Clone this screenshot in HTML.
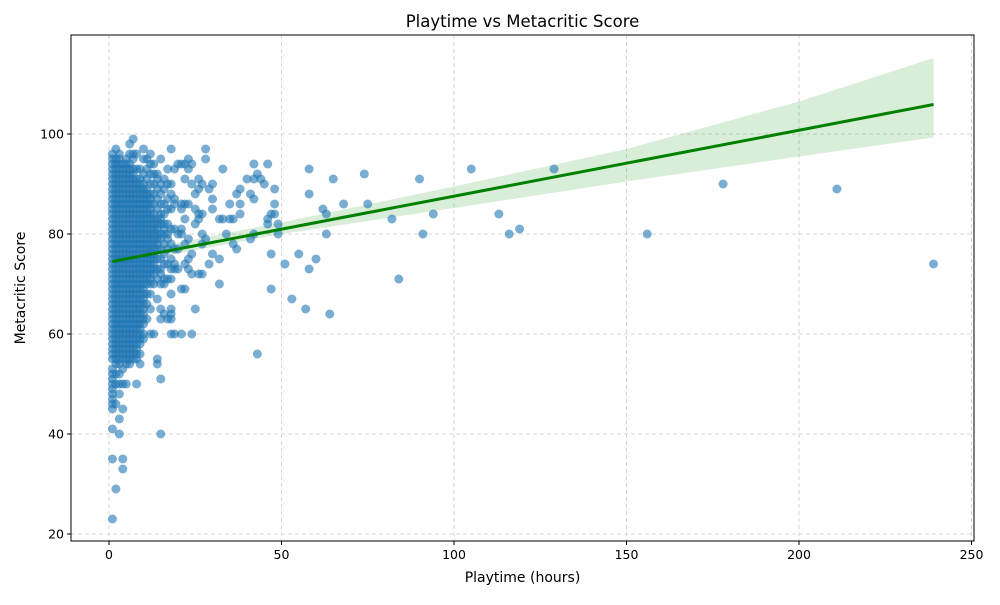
<!DOCTYPE html>
<html><head><meta charset="utf-8"><style>
body{margin:0;background:#fff;font-family:"Liberation Sans",sans-serif}
svg text{font-family:"DejaVu Sans","Liberation Sans",sans-serif}
</style></head><body>
<svg id="chart" width="1000" height="600" xmlns="http://www.w3.org/2000/svg">
<rect width="1000" height="600" fill="#fff"/>
<g id="grid"></g><g id="band"></g><g id="pts"></g><g id="reg"></g><g id="axes"></g>
</svg>
<script>
const colX=[1,2,3,4,5,6,7,8,9,10,11,12,13,14,15,16,17,18];
const colScores=[
[23,35,41,45,46,47,48,49,50,51,52,53,55,56,57,58,59,60,61,62,63,64,65,66,67,68,69,70,71,72,73,74,75,76,77,78,79,80,81,82,83,84,85,86,87,88,89,90,91,92,93,94,95,96],
[29,46,50,52,54,55,56,57,58,59,60,61,62,63,64,65,66,67,68,69,70,71,72,73,74,75,76,77,78,79,80,81,82,83,84,85,86,87,88,89,90,91,92,93,94,95,97],
[40,43,48,50,52,54,55,56,57,58,59,60,61,62,63,64,65,66,67,68,69,70,71,72,73,74,75,76,77,78,79,80,81,82,83,84,85,86,87,88,89,90,91,92,93,94,95,96],
[33,35,45,50,53,55,56,57,58,59,60,61,62,63,64,65,66,67,68,69,70,71,72,73,74,75,76,77,78,79,80,81,82,83,84,85,86,87,88,89,90,91,92,93,94],
[50,54,55,56,57,58,59,60,61,62,63,64,65,66,67,68,69,70,71,72,73,74,75,76,77,78,79,80,81,82,83,84,85,86,87,88,89,90,91,92,93,94,95],
[54,55,56,57,58,59,60,61,62,63,64,65,66,67,68,69,70,71,72,73,74,75,76,77,78,79,80,81,82,83,84,85,86,87,88,89,90,91,92,93,94,96,98],
[55,56,57,58,59,60,61,62,63,64,65,66,67,68,69,70,71,72,73,74,75,76,77,78,79,80,81,82,83,84,85,86,87,88,89,90,91,92,93,95,96,99],
[50,55,56,57,58,59,60,61,62,63,64,65,66,67,68,69,70,71,72,73,74,75,76,77,78,79,80,81,82,83,84,85,86,87,88,89,90,91,93,96],
[54,56,58,59,60,61,62,63,64,65,66,67,68,69,70,71,72,73,74,75,76,77,78,79,80,81,82,83,84,85,86,87,88,89,90,91,93],
[59,60,62,63,64,65,66,67,68,69,70,71,72,73,74,75,76,77,78,79,80,81,82,83,84,85,86,87,88,89,90,92,95,97],
[63,66,68,70,71,72,73,74,75,76,77,78,79,80,81,82,83,84,85,86,87,88,89,91,93,95],
[60,65,68,70,71,72,73,74,75,76,77,78,79,80,81,82,83,84,85,86,87,88,90,92,94,96],
[60,70,72,73,74,75,76,77,78,79,80,81,82,83,84,86,88,90,92,94],
[54,55,67,71,73,75,77,78,79,80,81,82,83,85,87,89,91,92],
[40,51,63,65,70,72,73,75,77,79,80,82,83,84,86,88,90,95],
[64,70,71,74,76,78,80,81,82,84,86,89,91],
[63,71,74,77,79,80,82,85,87,90,93],
[60,63,64,65,68,71,73,75,78,81,85,88,90,97]];
const extraX=[19,19,19,19,19,19,19,19,20,20,20,20,21,21,21,21,21,21,21,22,22,22,22,22,22,22,23,23,23,23,23,23,24,24,24,24,24,25,25,25,25,26,26,26,26,26,27,27,27,27,27,28,28,28,29,29,30,30,30,30,32,32,32,33,33,34,35,35,36,36,37,37,38,38,38,40,41,41,42,42,42,42,43,43,44,45,46,46,46,47,47,47,48,48,48,49,49,51,53,55,57,58,58,58,60,62,63,63,64,65,68,74,75,82,84,90,91,94,105,113,116,119,129,156,178,211,239];
const extraY=[60,73,74,77,81,86,87,93,73,77,80,94,60,69,80,81,85,86,94,69,74,78,83,86,91,94,73,75,79,86,93,95,60,72,76,90,94,65,82,85,88,72,83,84,89,91,72,78,80,84,90,79,95,97,74,89,76,85,87,90,70,75,83,83,93,80,83,86,78,83,77,88,84,86,89,91,79,88,80,87,91,94,56,92,91,90,82,83,94,69,76,84,84,86,89,80,82,74,67,76,65,73,88,93,75,85,80,84,64,91,86,92,86,83,71,91,80,84,93,84,80,81,93,80,90,89,74];
const xTicks=[0,50,100,150,200,250];
const yTicks=[20,40,60,80,100];
const regX=[1,239];
const regY=[74.5,105.9];
const bandX=[0,50,100,150,200,239];
const bandLo=[73.5,80,85.2,90.5,95.5,99.3];
const bandHi=[75.6,82.3,89.5,97,106.5,115.2];

const L=71,R=974,T=35,B=541;
const sx=v=>109+v*3.45;
const sy=v=>534-(v-20)*5;
const NS="http://www.w3.org/2000/svg";
function mk(tag,attrs,parent){const e=document.createElementNS(NS,tag);for(const k in attrs)e.setAttribute(k,attrs[k]);parent.appendChild(e);return e;}
const grid=document.getElementById('grid'),axes=document.getElementById('axes');
xTicks.forEach(t=>{
 const g=mk('line',{x1:sx(t),x2:sx(t),y1:T,y2:B,stroke:'#ccc','stroke-dasharray':'4,3','stroke-width':0.8},grid);
 
 const tk=mk('line',{x1:sx(t),x2:sx(t),y1:B,y2:B+4,stroke:'#000'},axes);
 
 const tx=mk('text',{x:sx(t),y:B+18,'text-anchor':'middle','font-size':12.5},axes);tx.textContent=t;
 
});
yTicks.forEach(t=>{
 const g=mk('line',{x1:L,x2:R,y1:sy(t),y2:sy(t),stroke:'#ccc','stroke-dasharray':'4,3','stroke-width':0.8},grid);
 
 const tk=mk('line',{x1:L-4,x2:L,y1:sy(t),y2:sy(t),stroke:'#000'},axes);
 
 const tx=mk('text',{x:L-7,y:sy(t)+4.5,'text-anchor':'end','font-size':12.5},axes);tx.textContent=t;
 
});
const fr=mk('rect',{x:L,y:T,width:R-L,height:B-T,fill:'none',stroke:'#000','stroke-width':1},axes);

const ti=mk('text',{x:(L+R)/2,y:27,'text-anchor':'middle','font-size':16.5},axes);ti.textContent='Playtime vs Metacritic Score';

const xl=mk('text',{x:(L+R)/2,y:582,'text-anchor':'middle','font-size':14},axes);xl.textContent='Playtime (hours)';

const yl=mk('text',{x:25,y:(T+B)/2,'text-anchor':'middle','font-size':14,transform:'rotate(-90 25 '+((T+B)/2)+')'},axes);yl.textContent='Metacritic Score';


let d='M'+bandX.map((x,i)=>sx(x)+','+sy(bandHi[i])).join('L');
for(let i=bandX.length-1;i>=0;i--)d+='L'+sx(bandX[i])+','+sy(bandLo[i]);
const band=mk('path',{d:d+'Z',fill:'#2ca02c','fill-opacity':0.18},document.getElementById('band'));


const pts=document.getElementById('pts');
function dot(x,y){const c=mk('circle',{cx:sx(x),cy:sy(y),r:4.5,fill:'#1f77b4','fill-opacity':0.6},pts);
 }
colX.forEach((x,i)=>colScores[i].forEach(y=>dot(x,y)));
extraX.forEach((x,i)=>dot(x,extraY[i]));

const rl=mk('line',{x1:sx(regX[0]),y1:sy(regY[0]),x2:sx(regX[1]),y2:sy(regY[1]),stroke:'#008000','stroke-width':3},document.getElementById('reg'));

</script>
</body></html>
